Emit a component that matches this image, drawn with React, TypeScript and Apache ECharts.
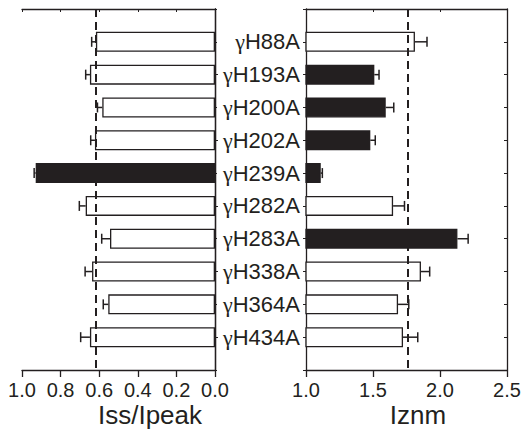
import React, { useEffect, useRef } from "react";
import * as echarts from "echarts";

const categories = ["γH88A", "γH193A", "γH200A", "γH202A", "γH239A", "γH282A", "γH283A", "γH338A", "γH364A", "γH434A"];
const issValues = [0.617, 0.648, 0.584, 0.622, 0.929, 0.67, 0.544, 0.637, 0.553, 0.648];
const issErrors = [0.022, 0.022, 0.025, 0.022, 0.008, 0.033, 0.043, 0.036, 0.026, 0.048];
const issFilled = [false, false, false, false, true, false, false, false, false, false];
const iznmValues = [1.813, 1.51, 1.595, 1.48, 1.11, 1.65, 2.13, 1.858, 1.687, 1.724];
const iznmErrors = [0.09, 0.035, 0.06, 0.037, 0.012, 0.085, 0.08, 0.065, 0.08, 0.11];
const iznmFilled = [false, true, true, true, true, false, true, false, false, false];
const issReference = 0.62;
const iznmReference = 1.76;
const issTicks = [0, 0.2, 0.4, 0.6, 0.8, 1.0];
const iznmTicks = [1.0, 1.5, 2.0, 2.5];
const issTitle = "Iss/Ipeak";
const iznmTitle = "Iznm";

const INK = "#231f20";
const FONT = "Liberation Sans, Arial, sans-serif";

export default function App() {
  const ref = useRef<HTMLDivElement>(null);
  useEffect(() => {
    if (!ref.current) return;
    const chart = echarts.init(ref.current, null, { renderer: "svg" });
    const yData = ["", ...categories, " "];

    const barData = (vals: number[], filled: boolean[]) => [
      "-",
      ...vals.map((v, i) => ({ value: v, itemStyle: { color: filled[i] ? INK : "#ffffff" } })),
      "-",
    ];
    const errData = (vals: number[], errs: number[]) => vals.map((v, i) => [v, i + 1, errs[i]]);

    const renderErr = (params: any, api: any) => {
      const v = api.value(0);
      const idx = api.value(1);
      const e = api.value(2);
      const p0 = api.coord([v, idx]);
      const p1 = api.coord([v + e, idx]);
      const st = { stroke: INK, lineWidth: 1.5 };
      return {
        type: "group",
        children: [
          { type: "line", shape: { x1: p0[0], y1: p0[1], x2: p1[0], y2: p1[1] }, style: st },
          { type: "line", shape: { x1: p1[0], y1: p1[1] - 5, x2: p1[0], y2: p1[1] + 5 }, style: st },
        ],
      };
    };

    const markLine = (x: number) => ({
      silent: true,
      symbol: ["none", "none"],
      label: { show: false },
      lineStyle: { type: [8, 5], width: 2, color: INK },
      data: [{ xAxis: x }],
    });

    const axisLineStyle = { lineStyle: { color: INK, width: 1.3 } };

    const bottomX = (min: number, max: number, interval: number, inverse: boolean, gridIndex: number) => ({
      type: "value",
      gridIndex,
      min,
      max,
      interval,
      inverse,
      position: "bottom",
      splitLine: { show: false },
      axisLine: { show: true, ...axisLineStyle },
      axisTick: { show: true, inside: false, length: 7, lineStyle: { color: INK, width: 1.3 } },
      axisLabel: {
        show: true,
        margin: 10,
        fontSize: 20,
        fontFamily: FONT,
        color: INK,
        formatter: (v: number) => v.toFixed(1),
      },
    });
    const topX = (min: number, max: number, interval: number, inverse: boolean, gridIndex: number) => ({
      type: "value",
      gridIndex,
      min,
      max,
      interval,
      inverse,
      position: "top",
      splitLine: { show: false },
      axisLine: { show: true, ...axisLineStyle },
      axisTick: { show: true, inside: true, length: 3, lineStyle: { color: INK, width: 1 } },
      axisLabel: { show: false },
    });
    const catY = (gridIndex: number, position: string, extra: any) => ({
      type: "category",
      gridIndex,
      position,
      data: yData,
      inverse: true,
      boundaryGap: false,
      splitLine: { show: false },
      axisLine: { show: true, ...axisLineStyle },
      ...extra,
    });

    chart.setOption({
      animation: false,
      backgroundColor: "#ffffff",
      grid: [
        { left: 22, right: 309, top: 9, bottom: 62 },
        { left: 306, right: 17, top: 9, bottom: 62 },
      ],
      xAxis: [
        bottomX(issTicks[0], issTicks[issTicks.length - 1], 0.2, true, 0),
        topX(issTicks[0], issTicks[issTicks.length - 1], 0.2, true, 0),
        bottomX(iznmTicks[0], iznmTicks[iznmTicks.length - 1], 0.5, false, 1),
        topX(iznmTicks[0], iznmTicks[iznmTicks.length - 1], 0.5, false, 1),
      ],
      yAxis: [
        catY(0, "right", {
          axisTick: { show: true, inside: false, length: 2, lineStyle: { color: INK } },
          axisLabel: { show: false },
        }),
        catY(0, "left", {
          axisTick: {
            show: true,
            inside: true,
            length: 3,
            interval: (index: number) => index > 0 && index < 11 && index % 2 === 0,
            lineStyle: { color: INK },
          },
          axisLabel: { show: false },
        }),
        catY(1, "left", {
          axisTick: { show: true, inside: false, length: 3, lineStyle: { color: INK } },
          axisLabel: {
            show: true,
            interval: 0,
            margin: 6,
            formatter: (v: string) => (v.trim() === "" ? "" : `{g|${v.charAt(0)}}{t|${v.slice(1)}}`),
            rich: {
              g: { fontSize: 22, fontFamily: "Liberation Serif, serif", color: INK },
              t: { fontSize: 22, fontFamily: FONT, color: INK },
            },
          },
        }),
        catY(1, "right", {
          axisTick: { show: true, inside: true, length: 3, lineStyle: { color: INK } },
          axisLabel: { show: false },
        }),
      ],
      series: [
        {
          type: "bar",
          xAxisIndex: 0,
          yAxisIndex: 0,
          barWidth: 20,
          data: barData(issValues, issFilled),
          itemStyle: { borderColor: INK, borderWidth: 1.3 },
          markLine: markLine(issReference),
        },
        {
          type: "custom",
          xAxisIndex: 0,
          yAxisIndex: 0,
          renderItem: renderErr,
          encode: { x: 0, y: 1 },
          data: errData(issValues, issErrors),
          z: 3,
        },
        {
          type: "bar",
          xAxisIndex: 2,
          yAxisIndex: 2,
          barWidth: 20,
          clip: true,
          data: barData(iznmValues, iznmFilled),
          itemStyle: { borderColor: INK, borderWidth: 1.3 },
          markLine: markLine(iznmReference),
        },
        {
          type: "custom",
          xAxisIndex: 2,
          yAxisIndex: 2,
          renderItem: renderErr,
          encode: { x: 0, y: 1 },
          data: errData(iznmValues, iznmErrors),
          z: 3,
        },
      ],
      graphic: [
        {
          type: "text",
          x: 150,
          y: 415,
          style: { text: issTitle, fontSize: 26, fontFamily: FONT, fill: INK, align: "center", verticalAlign: "middle" },
        },
        {
          type: "text",
          x: 418,
          y: 415,
          style: { text: iznmTitle, fontSize: 26, fontFamily: FONT, fill: INK, align: "center", verticalAlign: "middle" },
        },
      ],
    });
    return () => chart.dispose();
  }, []);
  return (
    <div
      ref={ref}
      style={{ position: "fixed", left: 0, top: 0, width: 524, height: 432, background: "#fff" }}
    />
  );
}
